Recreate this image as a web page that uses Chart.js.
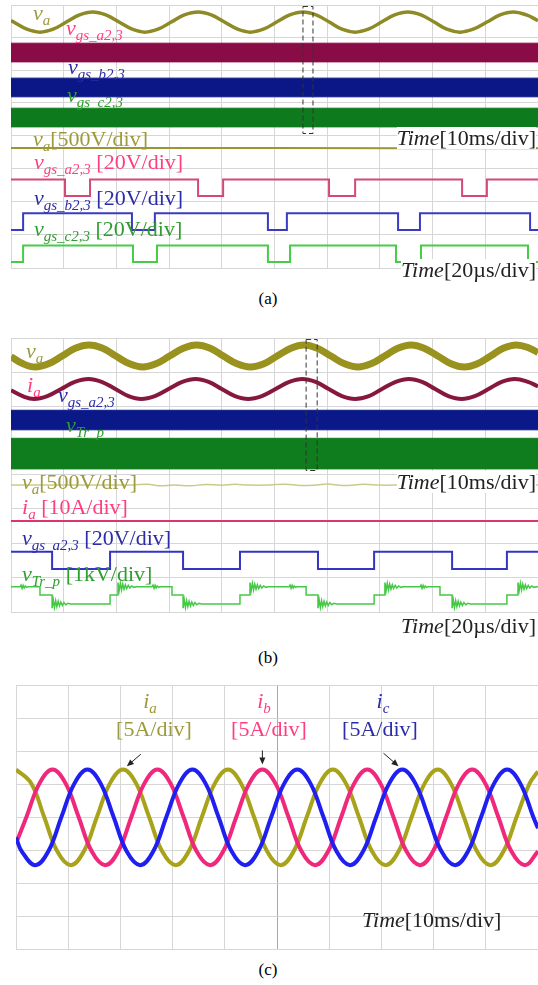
<!DOCTYPE html>
<html><head><meta charset="utf-8">
<script src="https://cdn.jsdelivr.net/npm/chart.js"></script>
<style>
html,body{margin:0;padding:0;background:#fff;overflow:hidden;width:538px;height:985px}
.scr{position:absolute}
.lbl{position:absolute;font-family:"Liberation Serif","Times New Roman",serif;font-size:22px;line-height:1;white-space:nowrap}
.lbl sub{font-size:15px;vertical-align:-5px;line-height:0;font-style:italic}
.bg{background:#fff}
.ctr{transform:translateX(-50%)}
.cap{position:absolute;font-family:"Liberation Serif","Times New Roman",serif;font-size:17px;line-height:1;transform:translateX(-50%)}
</style></head><body>
<div class="scr" style="left:10px;top:4px;width:529px;height:132px"><canvas id="cA1"></canvas></div>
<div class="scr" style="left:10px;top:134px;width:529px;height:135px"><canvas id="cA2"></canvas></div>
<div class="scr" style="left:10px;top:337px;width:529px;height:138px"><canvas id="cB1"></canvas></div>
<div class="scr" style="left:10px;top:473px;width:529px;height:140px"><canvas id="cB2"></canvas></div>
<div class="scr" style="left:15px;top:684px;width:524px;height:266px"><canvas id="cC"></canvas></div>

<!-- panel (a) labels -->
<div class="lbl" style="left:33px;top:2px;color:#9c9a3c"><i>v</i><sub>a</sub></div>
<div class="lbl" style="left:66px;top:17px;color:#ff3d80"><i>v</i><sub>gs_a2,3</sub></div>
<div class="lbl" style="left:68px;top:56px;color:#2c2ca8"><i>v</i><sub>gs_b2,3</sub></div>
<div class="lbl" style="left:67px;top:84px;color:#2e9e2e"><i>v</i><sub>gs_c2,3</sub></div>
<div class="lbl" style="left:33px;top:128px;color:#9c9a3c"><i>v</i><sub>a</sub>[500V/div]</div>
<div class="lbl bg" style="right:2px;top:127px;color:#222"><i>Time</i>[10ms/div]</div>
<div class="lbl" style="left:34px;top:151px;color:#ff3d80"><i>v</i><sub>gs_a2,3</sub> [20V/div]</div>
<div class="lbl" style="left:34px;top:187px;color:#2c2ca8"><i>v</i><sub>gs_b2,3</sub> [20V/div]</div>
<div class="lbl" style="left:34px;top:218px;color:#2e9e2e"><i>v</i><sub>gs_c2,3</sub> [20V/div]</div>
<div class="lbl bg" style="right:2px;top:259px;color:#222"><i>Time</i>[20µs/div]</div>
<div class="cap" style="left:268px;top:290px">(a)</div>

<!-- panel (b) labels -->
<div class="lbl" style="left:26px;top:340px;color:#9c9a3c"><i>v</i><sub>a</sub></div>
<div class="lbl" style="left:27px;top:374px;color:#ff3d80"><i>i</i><sub>a</sub></div>
<div class="lbl" style="left:58px;top:384px;color:#2c2ca8"><i>v</i><sub>gs_a2,3</sub></div>
<div class="lbl" style="left:66px;top:414px;color:#2e9e2e"><i>v</i><sub>Tr_p</sub></div>
<div class="lbl" style="left:22px;top:471px;color:#9c9a3c"><i>v</i><sub>a</sub>[500V/div]</div>
<div class="lbl bg" style="right:2px;top:471px;color:#222"><i>Time</i>[10ms/div]</div>
<div class="lbl" style="left:22px;top:496px;color:#ff3d80"><i>i</i><sub>a</sub> [10A/div]</div>
<div class="lbl" style="left:22px;top:527px;color:#2c2ca8"><i>v</i><sub>gs_a2,3</sub> [20V/div]</div>
<div class="lbl" style="left:22px;top:563px;color:#2e9e2e"><i>v</i><sub>Tr_p</sub> [1kV/div]</div>
<div class="lbl bg" style="right:2px;top:615px;color:#222"><i>Time</i>[20µs/div]</div>
<div class="cap" style="left:268px;top:649px">(b)</div>

<!-- panel (c) labels -->
<div class="lbl ctr" style="left:150px;top:690px;color:#9c9a3c"><i>i</i><sub>a</sub></div>
<div class="lbl ctr" style="left:154px;top:718px;color:#9c9a3c">[5A/div]</div>
<div class="lbl ctr" style="left:264px;top:690px;color:#ff3d80"><i>i</i><sub>b</sub></div>
<div class="lbl ctr" style="left:269px;top:718px;color:#ff3d80">[5A/div]</div>
<div class="lbl ctr" style="left:383px;top:690px;color:#2c2ca8"><i>i</i><sub>c</sub></div>
<div class="lbl ctr" style="left:380px;top:718px;color:#2c2ca8">[5A/div]</div>
<div class="lbl" style="left:362px;top:909px;color:#222"><i>Time</i>[10ms/div]</div>
<div class="cap" style="left:268px;top:961px">(c)</div>

<script>
// ================= DATA =================
// ---- (a) upper window, time in ms (10 ms/div) ----
const aTopTime = [0,0.5,3.0,5.5,8.0,10.5,13.0,15.5,18.0,20.5,23.0,25.4,27.9,30.4,32.9,35.5,38.0,40.5,43.0,45.4,47.9,50.4,52.9,55.4,57.9,60.4,62.8,65.3,67.8,70.3,72.8,75.3,77.8,80.3,82.7,85.2,87.7,90.3,92.8,95.3,97.8,100];
const aTopVa   = [45,0,-220,-310,-220,0,220,310,220,0,-220,-310,-220,0,220,310,220,0,-220,-310,-220,0,220,310,220,0,-220,-310,-220,0,220,310,220,0,-220,-310,-220,0,220,310,220,45];
const bandTime = [0,100];
const gateBandHigh = [22,22];   // V, upper edge of the PWM band
const gateBandLow  = [-1,-1];   // V, lower edge of the PWM band
const zoomWindowA = [55.4,57.3]; // ms

// ---- (a) lower window, time in µs (20 µs/div) ----
const aZoomVaTime = [0,50,100,150,200];
const aZoomVa     = [305,305,302,300,300];
const aGateATime = [0,20.5,30.0,71.0,80.5,120.7,130.6,171.2,180.6,200];
const aGateA     = [20,0,20,0,20,0,20,0,20,20];
const aGateBTime = [0,4.6,45.9,54.6,97.5,104.7,146.9,155.2,197.0,200];
const aGateB     = [0,20,0,20,0,20,0,20,0,0];
const aGateCTime = [0,4.6,46.3,55.4,97.5,105.9,146.1,155.6,196.2,200];
const aGateC     = [0,20,0,20,0,20,0,20,0,0];

// ---- (b) upper window, ms ----
const bTopVaTime = [0,2.3,4.6,7.1,9.7,12.2,14.8,17.4,19.9,22.5,25.0,27.5,30.1,32.7,35.2,37.8,40.3,42.9,45.4,48.0,50.5,53.1,55.6,58.1,60.7,63.3,65.8,68.3,70.9,73.4,75.9,78.4,81.0,83.5,86.0,88.5,91.0,93.4,95.9,98.4,100];
const bTopVa     = [-20,-230,-325,-230,0,230,325,230,0,-230,-325,-230,0,230,325,230,0,-230,-325,-230,0,230,325,230,0,-230,-325,-230,0,230,325,230,0,-230,-325,-230,0,230,325,230,100];
const bTopIaTime = [0,2.2,4.4,6.9,9.5,12.1,14.7,17.2,19.8,22.3,24.7,27.3,29.9,32.5,35.0,37.5,40.0,42.5,45.0,47.6,50.2,52.8,55.3,57.8,60.3,62.8,65.3,67.9,70.4,73.0,75.5,78.0,80.5,83.0,85.5,88.0,90.6,93.1,95.6,98.1,100];
const bTopIa     = [-0.8,-4.2,-5.9,-4.2,0,4.2,5.9,4.2,0,-4.2,-5.9,-4.2,0,4.2,5.9,4.2,0,-4.2,-5.9,-4.2,0,4.2,5.9,4.2,0,-4.2,-5.9,-4.2,0,4.2,5.9,4.2,0,-4.2,-5.9,-4.2,0,4.2,5.9,4.2,1.5];
const trBandHigh = [900,900];   // V
const trBandLow  = [-900,-900]; // V
const zoomWindowB = [56.0,58.1];

// ---- (b) lower window, µs ----
const bZoomVaTime = [0,12,24,36,46,52,56,62,68,74,80,85,90,98,104,110,116,120,126,134,140,150,162,176,188,200];
const bZoomVa     = [320,318,322,318,322,345,300,320,300,335,315,340,318,320,345,305,322,350,310,340,318,322,318,320,318,320];
const bZoomIaTime = [0,100,200];
const bZoomIa     = [5.9,5.9,5.9];
const bGateTime = [0,15.6,37.6,65.3,86.9,116.5,137.8,167.4,188.2,200];
const bGate     = [20,0,20,0,20,0,20,0,20,20];
const bTrTime = [0,3.4,3.8,4.2,4.6,5.0,5.4,5.9,6.4,11.0,11.0,15.6,
  15.6,16.05,16.5,16.95,17.4,17.9,18.4,18.9,19.5,20.1,20.8,21.6,22.6,37.6,37.6,40.6,
  40.6,41.05,41.5,41.95,42.4,42.9,43.4,43.9,44.5,45.1,45.8,46.6,47.6,
  53.5,53.9,54.3,54.7,55.1,55.5,56.0,56.5,61.1,61.1,65.3,
  65.3,65.75,66.2,66.65,67.1,67.6,68.1,68.6,69.2,69.8,70.5,71.3,72.3,86.9,86.9,90.7,
  90.7,91.15,91.6,92.05,92.5,93.0,93.5,94.0,94.6,95.2,95.9,96.7,97.7,
  105.5,105.9,106.3,106.7,107.1,107.5,108.0,108.5,112.0,112.0,116.5,
  116.5,116.95,117.4,117.85,118.3,118.8,119.3,119.8,120.4,121.0,121.7,122.5,123.5,137.8,137.8,141.9,
  141.9,142.35,142.8,143.25,143.7,144.2,144.7,145.2,145.8,146.4,147.1,147.9,148.9,
  155.2,155.6,156.0,156.4,156.8,157.2,157.7,158.2,162.8,162.8,167.4,
  167.4,167.85,168.3,168.75,169.2,169.7,170.2,170.7,171.3,171.9,172.6,173.4,174.4,188.2,188.2,192.4,
  192.4,192.85,193.3,193.75,194.2,194.7,195.2,195.7,196.3,196.9,197.6,198.4,199.4,200];
const bTr = [470,470,570,380,550,400,520,440,470,470,0,0,
  -770,-290,-730,-330,-680,-370,-640,-410,-610,-440,-570,-490,-520,-520,0,0,
  720,250,680,290,630,330,590,370,560,400,520,440,470,
  470,570,380,550,400,520,440,470,470,0,0,
  -770,-290,-730,-330,-680,-370,-640,-410,-610,-440,-570,-490,-520,-520,0,0,
  720,250,680,290,630,330,590,370,560,400,520,440,470,
  470,570,380,550,400,520,440,470,470,0,0,
  -770,-290,-730,-330,-680,-370,-640,-410,-610,-440,-570,-490,-520,-520,0,0,
  720,250,680,290,630,330,590,370,560,400,520,440,470,
  470,570,380,550,400,520,440,470,470,0,0,
  -770,-290,-730,-330,-680,-370,-640,-410,-610,-440,-570,-490,-520,-520,0,0,
  720,250,680,290,630,330,590,370,560,400,520,440,470,470];

// ---- (c) three-phase currents, ms (10 ms/div), A ----
const cIaTime = [0,2.9,5.4,7.9,10.5,13.0,15.5,18.0,20.5,23.0,25.5,28.0,30.6,33.1,35.6,38.1,40.6,43.1,45.6,48.1,50.7,53.2,55.7,58.2,60.7,63.2,65.7,68.2,70.8,73.3,75.8,78.3,80.8,83.3,85.8,88.3,90.9,93.4,95.9,98.4,100];
const cIa     = [7.2,5.1,0,-5.2,-7.3,-5.2,0,5.1,7.2,5.1,0,-5.2,-7.3,-5.2,0,5.1,7.2,5.1,0,-5.2,-7.3,-5.2,0,5.1,7.2,5.1,0,-5.2,-7.3,-5.2,0,5.1,7.2,5.1,0,-5.2,-7.3,-5.2,0,5.1,6.9];
const cIbTime = [0,2.0,4.5,7.0,9.5,12.0,14.5,17.1,19.6,22.1,24.6,27.1,29.6,32.1,34.6,37.2,39.7,42.2,44.7,47.2,49.7,52.2,54.7,57.3,59.8,62.3,64.8,67.3,69.8,72.3,74.8,77.4,79.9,82.4,84.9,87.4,89.9,92.4,94.9,97.5,100];
const cIb     = [-4.0,0,5.1,7.2,5.1,0,-5.2,-7.3,-5.2,0,5.1,7.2,5.1,0,-5.2,-7.3,-5.2,0,5.1,7.2,5.1,0,-5.2,-7.3,-5.2,0,5.1,7.2,5.1,0,-5.2,-7.3,-5.2,0,5.1,7.2,5.1,0,-5.2,-7.3,-5.2];
const cIcTime = [0,1.1,3.7,6.2,8.7,11.2,13.7,16.2,18.7,21.2,23.8,26.3,28.8,31.3,33.8,36.3,38.8,41.3,43.9,46.4,48.9,51.4,53.9,56.4,58.9,61.4,64.0,66.5,69.0,71.5,74.0,76.5,79.0,81.5,84.1,86.6,89.1,91.6,94.1,96.6,99.1,100];
const cIc     = [-3.1,-5.2,-7.3,-5.2,0,5.1,7.2,5.1,0,-5.2,-7.3,-5.2,0,5.1,7.2,5.1,0,-5.2,-7.3,-5.2,0,5.1,7.2,5.1,0,-5.2,-7.3,-5.2,0,5.1,7.2,5.1,0,-5.2,-7.3,-5.2,0,5.1,7.2,5.1,0,-1.7];
const cArrowTime  = [20.5,47.2,74.0];  // peaks the arrows point at (ms)
const cArrowValue = [7.2,7.2,7.2];     // A

// ================= LAYOUT / STYLE =================
const GRID = '#d6d6d6';
// channel placement: [zero-level offset in divisions from bottom, units per division]
const CH = {
  A1: {va:[6.95,500], ga:[4.55,20], gb:[2.4,20], gc:[0.55,20]},
  A2: {va:[6.61,500], ga:[4.33,20], gb:[2.29,20], gc:[0.36,20]},
  B1: {va:[6.94,500], ia:[5.0,10], ga:[2.65,20], tr:[1.2,1000]},
  B2: {va:[6.72,500], ia:[4.69,10], ga:[2.49,20], tr:[0.99,1000]},
  C:  {ia:[4,5], ib:[4,5], ic:[4,5]}
};
const pts = (t, v) => t.map((x, i) => ({x: x, y: v[i]}));
function axesFor(ch) {
  const o = {};
  for (const k in ch) { const [off, per] = ch[k]; o[k] = {type:'linear', display:false, min:-off*per, max:(8-off)*per}; }
  return o;
}
function ln(t, v, axis, color, w, extra) {
  return Object.assign({data: pts(t, v), yAxisID: axis, borderColor: color, backgroundColor: color,
    borderWidth: w, pointRadius: 0, tension: 0, fill: false}, extra || {});
}

const annot = {
  id: 'annot',
  afterDatasetsDraw(chart, args, o) {
    const ctx = chart.ctx, a = chart.chartArea, xs = chart.scales.x;
    if (o.box) {
      const x0 = xs.getPixelForValue(o.box[0]), x1 = xs.getPixelForValue(o.box[1]);
      ctx.save(); ctx.setLineDash([5,3]); ctx.strokeStyle = '#333'; ctx.lineWidth = 1;
      ctx.strokeRect(x0, a.top + 1.5, x1 - x0, a.bottom - a.top - 3 - (o.boxCut || 0));
      ctx.restore();
    }
    if (o.arrows) {
      const ys = chart.scales[o.arrows.axis];
      o.arrows.t.forEach((t, i) => {
        const px = xs.getPixelForValue(t), py = ys.getPixelForValue(o.arrows.v[i]);
        const [dx, dy] = o.arrows.dir[i]; const L = Math.hypot(dx, dy), ux = dx / L, uy = dy / L;
        const tx = px + ux * 5, ty = py + uy * 5, sx = tx + dx, sy = ty + dy;
        ctx.save(); ctx.strokeStyle = '#222'; ctx.fillStyle = '#222'; ctx.lineWidth = 1;
        ctx.beginPath(); ctx.moveTo(sx, sy); ctx.lineTo(tx + ux * 5, ty + uy * 5); ctx.stroke();
        const nx = -uy, ny = ux;
        ctx.beginPath(); ctx.moveTo(tx, ty);
        ctx.lineTo(tx + ux * 7 + nx * 3, ty + uy * 7 + ny * 3);
        ctx.lineTo(tx + ux * 7 - nx * 3, ty + uy * 7 - ny * 3); ctx.closePath(); ctx.fill();
        ctx.restore();
      });
    }
  }
};

function screen(id, xMax, xStep, yStep, ch, datasets, an, gridColor) {
  const scales = Object.assign({
    x: {type:'linear', min:0, max:xMax, ticks:{display:false, stepSize:xStep},
        grid:{color: gridColor || GRID, drawTicks:false}, border:{color:GRID}},
    y: {type:'linear', min:0, max:8, ticks:{display:false, stepSize:yStep},
        grid:{color:GRID, drawTicks:false}, border:{color:GRID}}
  }, axesFor(ch));
  return new Chart(document.getElementById(id), {
    type: 'line',
    data: {datasets: datasets},
    options: {animation:false, responsive:true, maintainAspectRatio:false, events:[],
      layout:{padding:1},
      plugins:{legend:{display:false}, tooltip:{enabled:false}, annot: an || {}},
      scales: scales},
    plugins: [annot]
  });
}

// ---- (a) upper ----
screen('cA1', 100, 10, 2, CH.A1, [
  ln(aTopTime, aTopVa, 'va', '#8e8a26', 3.5, {tension:0.4}),
  ln(bandTime, gateBandHigh, 'ga', '#8a0c46', 1, {fill:'+1'}),
  ln(bandTime, gateBandLow, 'ga', '#8a0c46', 1),
  ln(bandTime, gateBandHigh, 'gb', '#0b1787', 1, {fill:'+1'}),
  ln(bandTime, gateBandLow, 'gb', '#0b1787', 1),
  ln(bandTime, gateBandHigh, 'gc', '#0e7a1e', 1, {fill:'+1'}),
  ln(bandTime, gateBandLow, 'gc', '#0e7a1e', 1)
], {box: zoomWindowA});

// ---- (a) lower ----
screen('cA2', 200, 20, 2, CH.A2, [
  ln(aZoomVaTime, aZoomVa, 'va', '#9a9632', 2),
  ln(aGateATime, aGateA, 'ga', '#d2497a', 2, {stepped:true}),
  ln(aGateBTime, aGateB, 'gb', '#3b3bbf', 2, {stepped:true}),
  ln(aGateCTime, aGateC, 'gc', '#47cc47', 2, {stepped:true})
]);

// ---- (b) upper ----
screen('cB1', 100, 10, 2, CH.B1, [
  ln(bTopVaTime, bTopVa, 'va', '#99921e', 7, {tension:0.4}),
  ln(bTopIaTime, bTopIa, 'ia', '#86183f', 4, {tension:0.4}),
  ln(bandTime, gateBandHigh, 'ga', '#0a1888', 1, {fill:'+1'}),
  ln(bandTime, gateBandLow, 'ga', '#0a1888', 1),
  ln(bandTime, trBandHigh, 'tr', '#0f7d1d', 1, {fill:'+1'}),
  ln(bandTime, trBandLow, 'tr', '#0f7d1d', 1)
], {box: zoomWindowB, boxCut: 2});

// ---- (b) lower ----
screen('cB2', 200, 20, 2, CH.B2, [
  ln(bZoomVaTime, bZoomVa, 'va', '#cbca8a', 1.5, {tension:0.4}),
  ln(bZoomIaTime, bZoomIa, 'ia', '#d8366c', 2),
  ln(bGateTime, bGate, 'ga', '#3535c4', 2, {stepped:true}),
  ln(bTrTime, bTr, 'tr', '#45c845', 1.5)
]);

// ---- (c) ----
screen('cC', 100, 10, 1, CH.C, [
  ln(cIcTime, cIc, 'ic', '#1f1ff0', 4, {tension:0.4}),
  ln(cIbTime, cIb, 'ib', '#f0287c', 4, {tension:0.4}),
  ln(cIaTime, cIa, 'ia', '#a8a31a', 4, {tension:0.4})
], {arrows: {axis:'ia', t: cArrowTime, v: cArrowValue, dir: [[14,-12],[0,-14],[-15,-13]]}},
  (c) => (c.tick && c.tick.value === 50) ? '#a8a8a8' : GRID);
</script>
</body></html>
